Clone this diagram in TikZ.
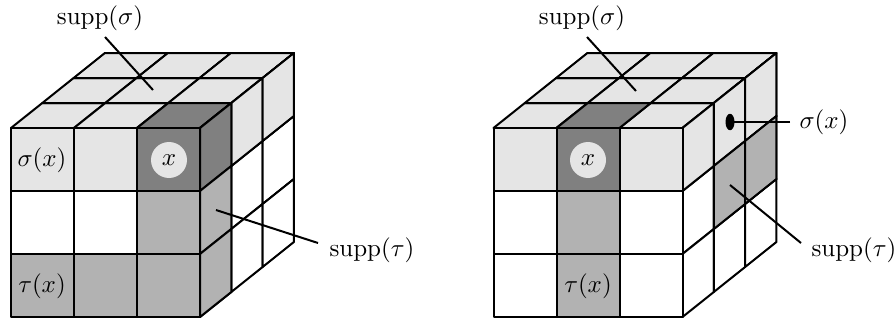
\documentclass[tikz,border=0pt]{standalone}
\definecolor{cubelight}{gray}{0.9}
\definecolor{cubemid}{gray}{0.7}
\definecolor{cubedark}{gray}{0.5}
\usetikzlibrary{shapes.geometric}
\tikzset{
  cell/.style={draw=black,line width=0.8pt,line join=round},
  leader/.style={draw=black,line width=0.8pt},
  lab/.style={inner sep=0pt,font=\normalsize},
  disc/.style={circle,fill=cubelight,minimum size=14.4pt,inner sep=0pt},
  tip/.style={ellipse,fill=black,minimum width=3.6pt,minimum height=6.6pt,inner sep=0pt}
}
% #1 column, #2 row, #3 colour
\newcommand{\frontcell}[3]{\path[cell,fill=#3] (#1*63,128+#2*63) rectangle ++(63,63);}
% #1 column, #2 depth, #3 colour
\newcommand{\topcell}[3]{\path[cell,fill=#3] (#1*63+#2*31.3,128-#2*25) -- ++(63,0) -- ++(31.3,-25) -- ++(-63,0) -- cycle;}
% #1 depth, #2 row, #3 colour
\newcommand{\sidecell}[3]{\path[cell,fill=#3] (189+#1*31.3,128+#2*63-#1*25) -- ++(31.3,-25) -- ++(0,63) -- ++(-31.3,25) -- cycle;}
\begin{document}
\begin{tikzpicture}[x=0.4pt,y=-0.4pt]
\useasboundingbox (0,0) rectangle (895,320);
% left cube
\begin{scope}[xshift=4.4pt]
\foreach \i in {0,1,2} \foreach \k in {0,1,2} {\topcell{\i}{\k}{cubelight}}
\topcell{2}{0}{cubedark}
\foreach \k in {0,1,2} \foreach \j in {0,1,2} {\sidecell{\k}{\j}{white}}
\foreach \k in {0,1,2} {\sidecell{\k}{0}{cubelight}}
\sidecell{0}{0}{cubedark}\sidecell{0}{1}{cubemid}\sidecell{0}{2}{cubemid}
\frontcell{0}{0}{cubelight}\frontcell{1}{0}{cubelight}\frontcell{2}{0}{cubedark}
\frontcell{0}{1}{white}\frontcell{1}{1}{white}\frontcell{2}{1}{cubemid}
\frontcell{0}{2}{cubemid}\frontcell{1}{2}{cubemid}\frontcell{2}{2}{cubemid}
\end{scope}
% right cube
\begin{scope}[xshift=197.4pt]
\foreach \i in {0,1,2} \foreach \k in {0,1,2} {\topcell{\i}{\k}{cubelight}}
\topcell{1}{0}{cubedark}
\foreach \k in {0,1,2} \foreach \j in {0,1,2} {\sidecell{\k}{\j}{white}}
\foreach \k in {0,1,2} {\sidecell{\k}{0}{cubelight}}
\sidecell{1}{1}{cubemid}\sidecell{2}{1}{cubemid}
\frontcell{0}{0}{cubelight}\frontcell{1}{0}{cubedark}\frontcell{2}{0}{cubelight}
\frontcell{0}{1}{white}\frontcell{1}{1}{cubemid}\frontcell{2}{1}{white}
\frontcell{0}{2}{white}\frontcell{1}{2}{cubemid}\frontcell{2}{2}{white}
\end{scope}
% discs and cell labels
\node[disc] (xl) at (169,160) {$x$};
\node[disc] (xr) at (588,160) {$x$};
\node[lab] (sxl) at (42,160) {$\sigma(x)$};
\node[lab] (txl) at (42,286) {$\tau(x)$};
\node[lab] (txr) at (588,286) {$\tau(x)$};
% outer labels
\node[lab] (sl) at (100,18) {$\mathrm{supp}(\sigma)$};
\node[lab] (sr) at (582,18) {$\mathrm{supp}(\sigma)$};
\node[lab] (tl) at (372,250) {$\mathrm{supp}(\tau)$};
\node[lab] (tr) at (854,250) {$\mathrm{supp}(\tau)$};
\node[lab] (sxr) at (824,122) {$\sigma(x)$};
\node[tip] (dot) at (730,122) {};
% leader ends
\coordinate (a1) at (105,37); \coordinate (a2) at (153,90);
\coordinate (b1) at (587,37); \coordinate (b2) at (636,91);
\coordinate (c1) at (318,243); \coordinate (c2) at (216,210);
\coordinate (d1) at (801,243); \coordinate (d2) at (730,185);
\coordinate (e1) at (790,122);
\draw[leader] (a1) -- (a2);
\draw[leader] (b1) -- (b2);
\draw[leader] (c1) -- (c2);
\draw[leader] (d1) -- (d2);
\draw[leader] (e1) -- (dot.center);
\end{tikzpicture}
\end{document}
